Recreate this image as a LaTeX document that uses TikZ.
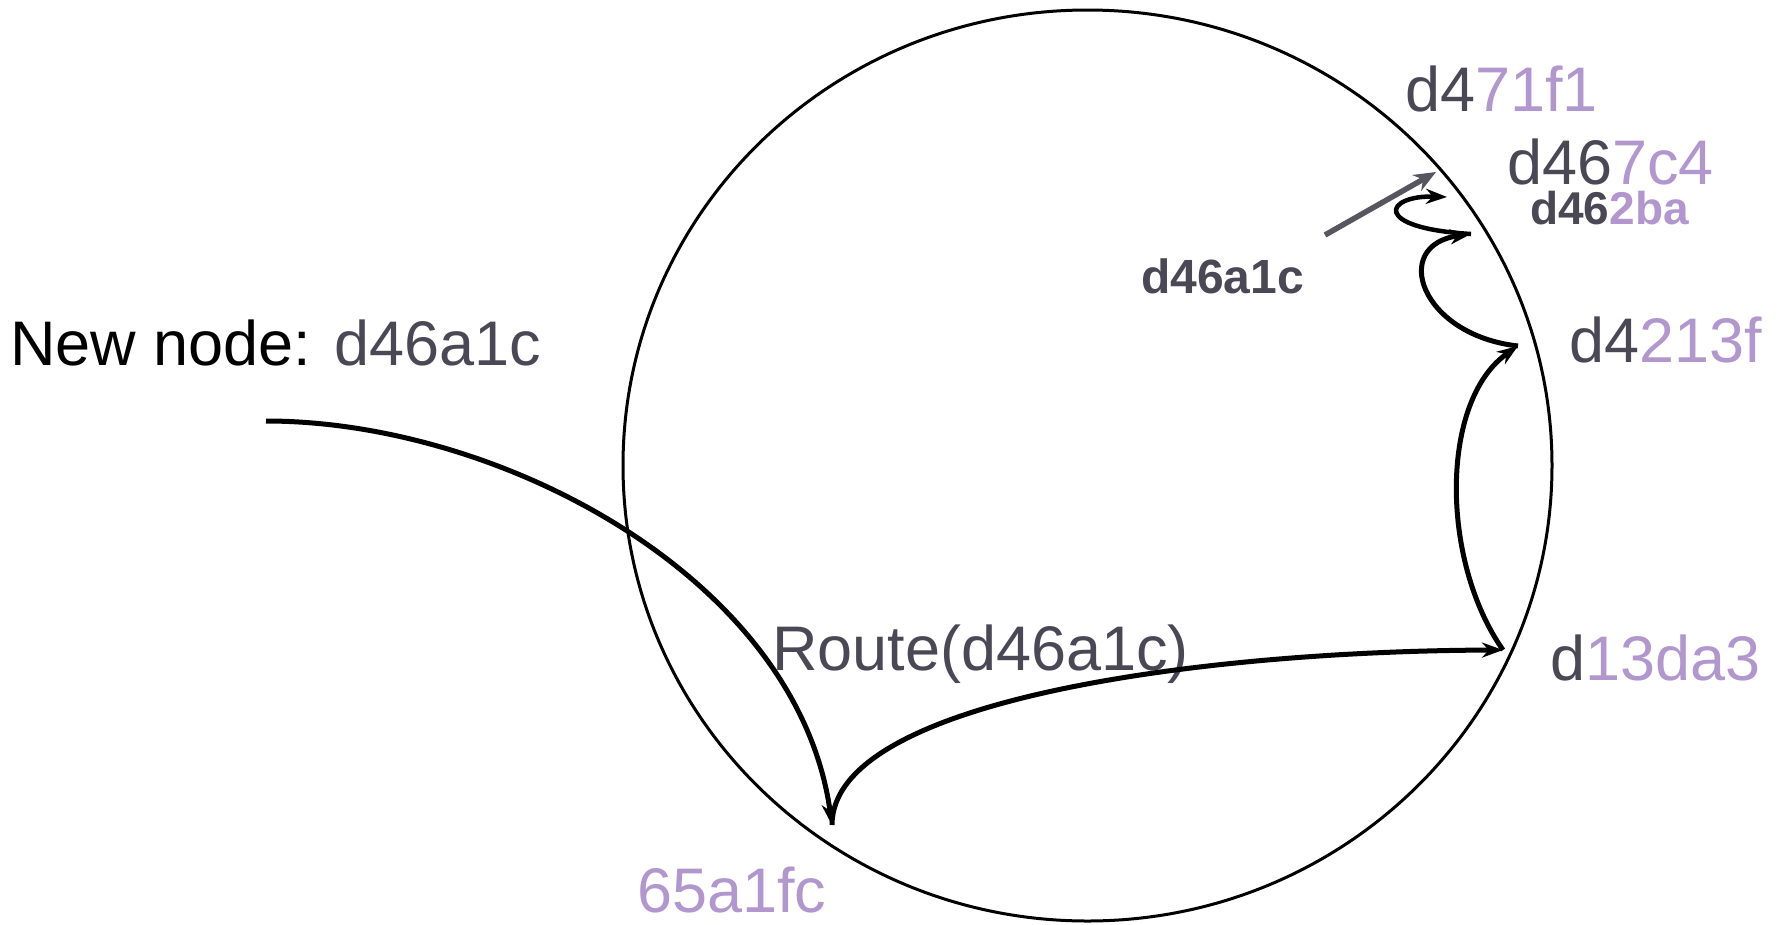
\documentclass[tikz,border=0pt]{standalone}
\usepackage{fontspec}
\setmainfont{Liberation Sans}
\usetikzlibrary{arrows.meta}

\definecolor{idgray}{HTML}{4A4855}
\definecolor{idpurple}{HTML}{B197CD}
\definecolor{arrgray}{HTML}{57555F}

% hash label: common prefix in gray, the rest in purple
\newcommand{\hashid}[2]{{\color{idgray}#1}{\color{idpurple}#2}}

\tikzset{
  idlabel/.style={inner sep=0pt, anchor=base west, font=\fontsize{63}{70}\selectfont},
  idbold/.style={inner sep=0pt, anchor=base west, font=\bfseries\fontsize{#1}{#1}\selectfont},
  hop/.style={->, line width=5pt},
}

\begin{document}
\begin{tikzpicture}[x=1pt, y=-1pt, >={Stealth[length=21pt,width=15pt]}]
	\useasboundingbox (0,0) rectangle (1791,924);
	
	% the ring
	\draw[line width=3pt] (1087.5,465.5) ellipse [x radius=464.5, y radius=455.5];
	
	% labels
	\node[idlabel] (newnode) at (10,365) {New node: {\color{idgray}d46a1c}};
	\node[idlabel] (n471) at (1405,111) {\hashid{d4}{71f1}};
	\node[idlabel] (n467) at (1507,184) {\hashid{d46}{7c4}};
	\node[idbold=46] (n462) at (1530,224) {\hashid{d46}{2ba}};
	\node[idbold=48, text=idgray] (newid) at (1141,293) {d46a1c};
	\node[idlabel] (n421) at (1569,362) {\hashid{d4}{213f}};
	\node[idlabel] (n13d) at (1550,680) {\hashid{d}{13da3}};
	\node[idlabel, text=idpurple] (n65a) at (637,912) {65a1fc};
	\node[idlabel, text=idgray] (route) at (772,670) {Route(d46a1c)};
	
	% points on the ring
	\coordinate (start) at (266,421);
	\coordinate (p65a) at (832,825);
	\coordinate (p13d) at (1503,650);
	\coordinate (p421) at (1518,346);
	\coordinate (p462) at (1471,234);
	\coordinate (p467) at (1447,197);
	\coordinate (tail) at (1325,235);
	\coordinate (pnew) at (1436,172);
	
	% join request, then the routing hops
	\draw[hop] (start) .. controls (500,421) and (798,578) .. (p65a);
	\draw[hop] (p65a) .. controls (832,700) and (1200,651) .. (p13d);
	\draw[hop] (p13d) .. controls (1440,560) and (1440,400) .. (p421);
	\draw[hop] (p421) .. controls (1420,335) and (1390,245) .. (p462);
	\draw[hop, line width=4.5pt] (p462) .. controls (1370,228) and (1385,195) .. (p467);
	
	% where the new node lands
	\draw[->, arrgray, line width=5.5pt, >={Stealth[length=22pt,width=18pt]}] (tail) -- (pnew);
\end{tikzpicture}
\end{document}
